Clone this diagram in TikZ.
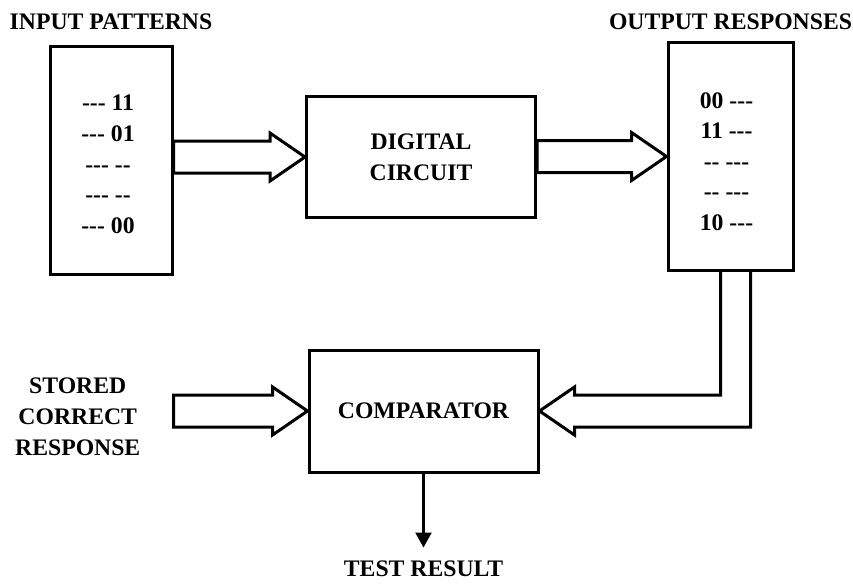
\documentclass[tikz,border=0pt]{standalone}
\usepackage{fontspec}
\setmainfont{Liberation Serif}[Ligatures=TeXOff]
\usetikzlibrary{positioning,arrows.meta,calc}

\begin{document}
\begin{tikzpicture}[
  x=1pt, y=-1pt,
  txt/.style    = {font=\bfseries\fontsize{23.7}{31}\selectfont},
  box/.style    = {draw, line width=3pt, align=center, txt},
  lbl/.style    = {inner sep=0pt, align=center, txt},
  fat/.style    = {line width=3pt, line join=miter},
  resarr/.style = {-{Triangle[length=15pt,width=16pt]}, line width=2.5pt},
]
\useasboundingbox (0,0) rectangle (853,583);

\node[box, minimum width=122pt, minimum height=227pt] (in) at (111,160.5) {};
\node[box, minimum width=229pt, minimum height=120pt] (dc) at (421,157) {DIGITAL\\ CIRCUIT};
\node[box, minimum width=125pt, minimum height=227pt] (out) at (730.5,156.5) {};
\node[box, minimum width=229pt, minimum height=122pt] (comp) at (423.5,411) {COMPARATOR};

\node[lbl, font=\bfseries\fontsize{23.7}{30.75}\selectfont] (intxt) at ($(in)+(-3,4)$) {--- 11\\ --- 01\\ --- --\\ --- --\\ --- 00};
\node[lbl, font=\bfseries\fontsize{23.7}{30.5}\selectfont] (outtxt) at ($(out)+(-4,5)$) {00 ---\\ 11 ---\\ -- ---\\ -- ---\\ 10 ---};

\node[lbl, above=16pt of in] (inlbl) {INPUT PATTERNS};
\node[lbl, above=12pt of out] (outlbl) {OUTPUT RESPONSES};

\coordinate (src) at (in.east |- comp.west);
\coordinate (pipe) at ($(out.south)+(5,0)$);
\coordinate (tip) at ($(comp.south)+(0,74)$);
\node[lbl, left=33pt of src, yshift=-6pt] (stored) {STORED\\ CORRECT\\ RESPONSE};
\node[lbl, below=13pt of tip] (result) {TEST RESULT};

% hollow arrows
\draw[fat] ($(in.east |- dc.west)+(0,-16)$) -- ($(dc.west)+(-35,-16)$) -- ($(dc.west)+(-35,-24)$) -- (dc.west)
  -- ($(dc.west)+(-35,24)$) -- ($(dc.west)+(-35,16)$) -- ($(in.east |- dc.west)+(0,16)$) -- cycle;
\draw[fat] ($(dc.east |- out.west)+(0,-16)$) -- ($(out.west)+(-35,-16)$) -- ($(out.west)+(-35,-24)$) -- (out.west)
  -- ($(out.west)+(-35,24)$) -- ($(out.west)+(-35,16)$) -- ($(dc.east |- out.west)+(0,16)$) -- cycle;
\draw[fat] ($(src)+(0,-16)$) -- ($(comp.west)+(-35,-16)$) -- ($(comp.west)+(-35,-24)$) -- (comp.west)
  -- ($(comp.west)+(-35,24)$) -- ($(comp.west)+(-35,16)$) -- ($(src)+(0,16)$) -- cycle;
\draw[fat] ($(pipe)+(-15,0)$) |- ($(comp.east)+(35,-16)$) -- ($(comp.east)+(35,-24)$) -- (comp.east)
  -- ($(comp.east)+(35,24)$) -- ($(comp.east)+(35,16)$) -| ($(pipe)+(15,0)$);

\draw[resarr] (comp.south) -- (tip);

\end{tikzpicture}
\end{document}
